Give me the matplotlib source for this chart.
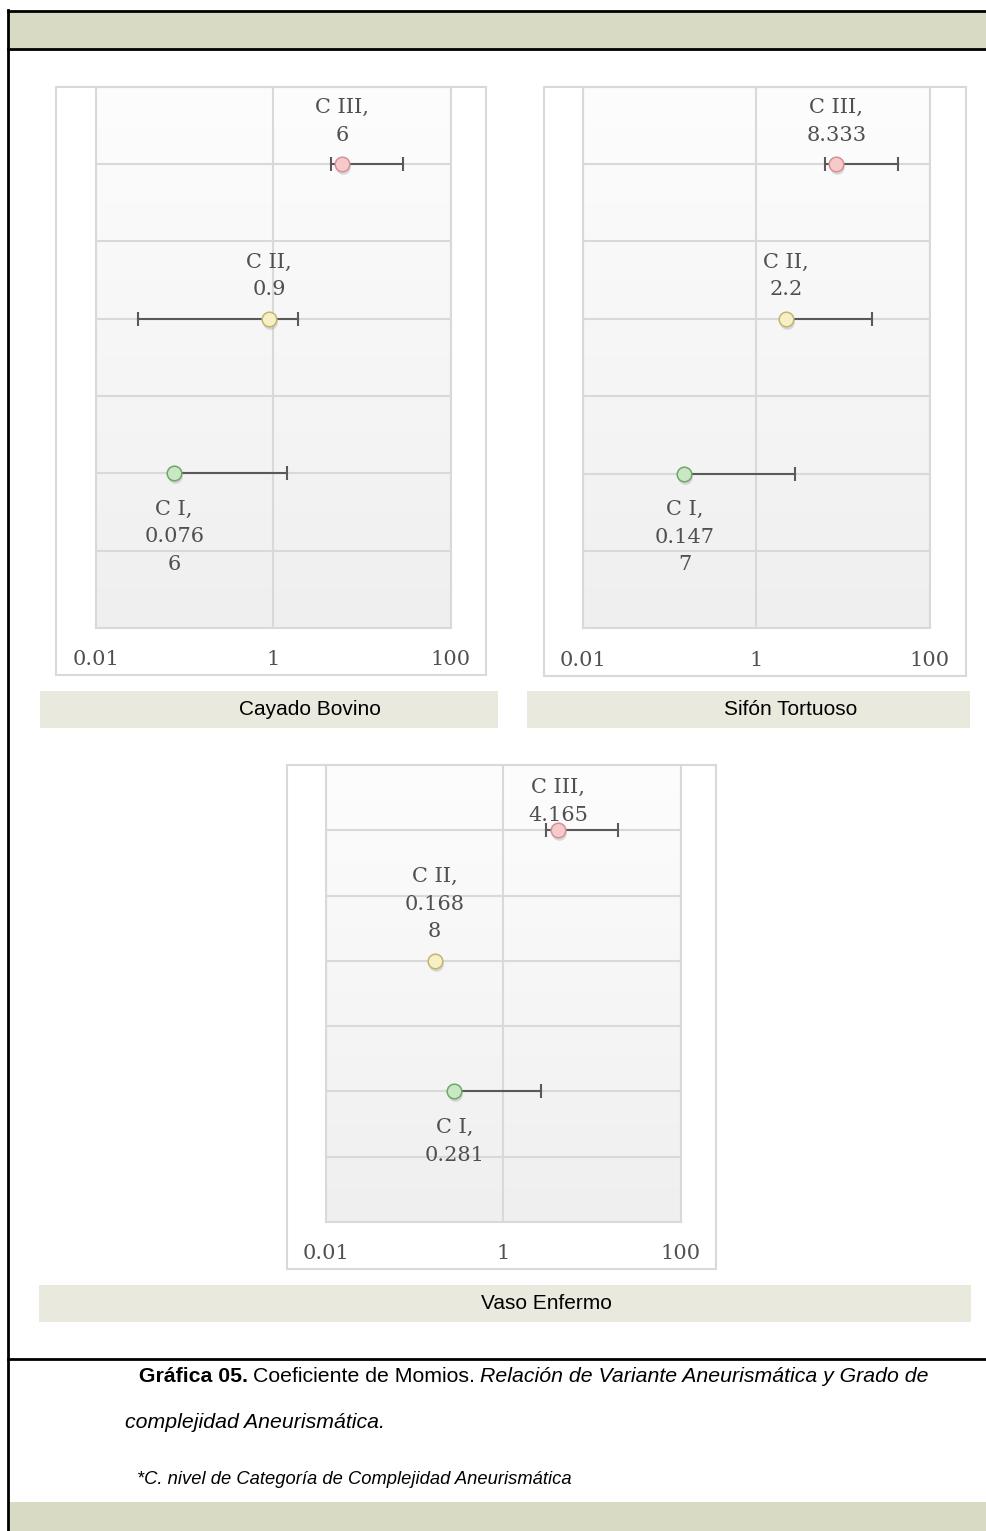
import numpy as np
import matplotlib.pyplot as plt
import matplotlib.transforms as mtransforms
from matplotlib.colors import LinearSegmentedColormap
from matplotlib.patches import Rectangle
from matplotlib.ticker import FixedLocator, NullLocator

# odds ratios (coeficiente de momios) with their interval bounds
levels = ["C I", "C II", "C III"]
level_y = [1, 2, 3]

bovino_or = [0.0766, 0.9, 6]
bovino_low = [0.0766, 0.03, 4.47]
bovino_high = [1.43, 1.88, 28.9]
bovino_lbl = ["0.076\n6", "0.9", "6"]

sifon_or = [0.1477, 2.2, 8.333]
sifon_low = [0.1477, 2.2, 6.24]
sifon_high = [2.8, 21.2, 43.3]
sifon_lbl = ["0.147\n7", "2.2", "8.333"]

vaso_or = [0.281, 0.1688, 4.165]
vaso_low = [0.281, 0.1688, 3.03]
vaso_high = [2.68, 0.1688, 19.6]
vaso_lbl = ["0.281", "0.168\n8", "4.165"]

x_ticks = [0.01, 1, 100]
x_ticklabels = ["0.01", "1", "100"]

W, H = 987, 1531
fig = plt.figure(figsize=(W / 100, H / 100), dpi=100)

def frect(x0, y0, x1, y1):
    return [x0 / W, 1 - y1 / H, (x1 - x0) / W, (y1 - y0) / H]

def box(x0, y0, x1, y1, fc="none", ec="none", lw=0, z=-5):
    l, b, w, h = frect(x0, y0, x1, y1)
    fig.add_artist(Rectangle((l, b), w, h, transform=fig.transFigure,
                             facecolor=fc, edgecolor=ec, linewidth=lw, zorder=z))

def hline(y, x0, x1, color="black", lw=2):
    fig.add_artist(plt.Line2D([x0 / W, x1 / W], [1 - y / H, 1 - y / H],
                              transform=fig.transFigure, color=color, lw=lw, zorder=5))

# page frame
box(9, 11, 987, 48, fc="#d9dac4")
box(9, 1502, 987, 1531, fc="#d9dac4")
hline(11, 8, 987)
hline(49, 8, 987)
hline(1359, 8, 987)
fig.add_artist(plt.Line2D([8.5 / W, 8.5 / W], [0, 1 - 10 / H], transform=fig.transFigure,
                          color="black", lw=2, zorder=5))

marker_fc = ["#c9e7c3", "#f7f0c4", "#f8c9cb"]
marker_ec = ["#6fa66a", "#c2b56c", "#d49196"]
grid_c = "#d9d9d9"
text_c = "#505050"
serif = "DejaVu Serif"
bg_cmap = LinearSegmentedColormap.from_list("bg", ["#efefef", "#fdfdfd"])

def panel(plot_px, box_px, bar_px, title, bar_cx, vals, lo, hi, lbls, offsets):
    box(*box_px, fc="white", ec=grid_c, lw=1.5, z=-4)
    box(*bar_px, fc="#e9e9dd")
    fig.text(bar_cx / W, 1 - ((bar_px[1] + bar_px[3]) / 2) / H, title,
             ha="center", va="center", fontsize=15, family="Liberation Sans", color="black")

    ax = fig.add_axes(frect(*plot_px))
    ax.set_xscale("log")
    ax.set_xlim(0.01, 100)
    ax.set_ylim(0, 3.5)
    # soft vertical gradient of the plot area
    grad = np.linspace(0, 1, 256).reshape(-1, 1)
    ax.imshow(grad, extent=[0, 1, 0, 1], transform=ax.transAxes, aspect="auto",
              cmap=bg_cmap, origin="lower", zorder=0)
    ax.xaxis.set_major_locator(FixedLocator(x_ticks))
    ax.xaxis.set_minor_locator(NullLocator())
    ax.set_xticklabels(x_ticklabels, family=serif, fontsize=15, color=text_c)
    ax.set_yticks(np.arange(0, 3.51, 0.5))
    ax.set_yticklabels([])
    ax.tick_params(length=0, pad=16)
    ax.grid(True, color=grid_c, lw=1.5, zorder=1)
    for s in ax.spines.values():
        s.set_color(grid_c)
        s.set_linewidth(1.5)

    shadow = ax.transData + mtransforms.ScaledTranslation(1 / 100, -3 / 100, fig.dpi_scale_trans)
    for i in range(3):
        v, y = vals[i], level_y[i]
        # interval line, with an end cap only where the bound differs from the estimate
        ax.plot([lo[i], hi[i]], [y, y], color="#595959", lw=1.5, zorder=3)
        ends = [b for b in (lo[i], hi[i]) if b != v]
        if ends:
            ax.plot(ends, [y] * len(ends), ls="none", marker="|", ms=9.5, mew=1.5,
                    color="#595959", zorder=3)
        ax.plot(v, y, "o", ms=10.5, color="#9a9a9a", alpha=0.35, mec="none",
                transform=shadow, zorder=3.5)
        ax.plot(v, y, "o", ms=10.5, mfc=marker_fc[i], mec=marker_ec[i],
                mew=1.1, zorder=4)
        dy = offsets[i]
        ax.annotate(levels[i] + ",\n" + lbls[i], (v, y), xytext=(0, dy),
                    textcoords="offset points", ha="center",
                    va="bottom" if dy > 0 else "top", family=serif, fontsize=15,
                    color=text_c, linespacing=1.58, zorder=5)
    return ax

panel((95.7, 86.7, 450.7, 628), (56, 86.7, 486, 675), (40, 691, 498, 728),
      "Cayado Bovino", 310, bovino_or, bovino_low, bovino_high, bovino_lbl,
      [-19, 14, 14])
panel((583, 86.7, 930, 628.3), (544, 86.7, 966, 676), (527, 691, 970, 728),
      "Sifón Tortuoso", 791, sifon_or, sifon_low, sifon_high, sifon_lbl,
      [-19, 14, 14])
panel((325.7, 765, 680.7, 1222), (286.7, 765, 716, 1269), (39, 1285, 971, 1322),
      "Vaso Enfermo", 546, vaso_or, vaso_low, vaso_high, vaso_lbl,
      [-19, 14, 4])

# caption, mixed weights/styles on the first line
renderer = fig.canvas.get_renderer()
cap = [(" Gráfica 05.", "bold", "normal"),
       ("Coeficiente de Momios.", "normal", "normal"),
       ("Relación de Variante Aneurismática y Grado de", "normal", "italic")]
x = 133
for s, wgt, sty in cap:
    t = fig.text(x / W, 1 - 1377 / H, s, fontsize=15.3, family="Liberation Sans",
                 fontweight=wgt, fontstyle=sty, va="center", color="black")
    x = t.get_window_extent(renderer).x1 + 5
fig.text(125 / W, 1 - 1422 / H, "complejidad Aneurismática.", fontsize=15.3,
         family="Liberation Sans", fontstyle="italic", va="center")
fig.text(137 / W, 1 - 1480 / H, "*C. nivel de Categoría de Complejidad Aneurismática",
         fontsize=13.2, family="Liberation Sans", fontstyle="italic", va="center")

fig.savefig("out.png", dpi=100)
